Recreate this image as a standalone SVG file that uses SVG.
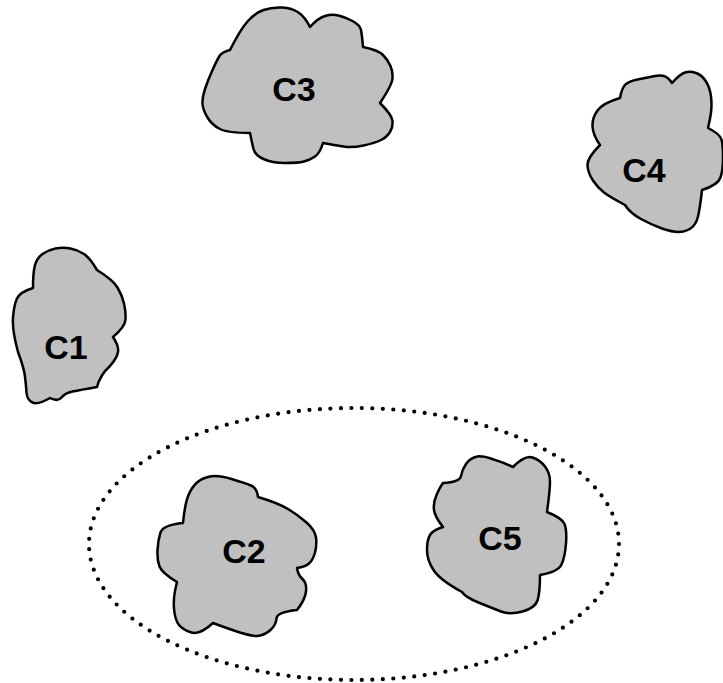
<svg xmlns="http://www.w3.org/2000/svg" width="723" height="683" viewBox="0 0 723 683">
<style>
.blob{fill:#c0c0c0;stroke:#000;stroke-width:2.5;stroke-linejoin:round}
.lbl{font-family:"Liberation Sans",Arial,sans-serif;font-weight:bold;font-size:34px;text-anchor:middle;fill:#000}
.group{fill:none;stroke:#000;stroke-width:4.2;stroke-linecap:round;stroke-dasharray:0 10}
</style>
<rect width="723" height="683" fill="#fff"/>
<g id="connectors"></g>
<g id="G1">
<ellipse class="group" cx="354" cy="544" rx="265" ry="136" pathLength="1230"/>
</g>
<g id="C3">
<path class="blob" d="M230,50 Q240,30 247.5,21.5 Q255,13 263.5,10 Q272,7 282,7.5 Q292,8 298.5,12.5 Q305,17 310,27 Q318,18 325,16 Q332,14 338.5,15.5 Q345,17 352.5,21 Q360,25 361,30 Q362,35 363,47 Q378,50 383,55 Q388,60 390.5,66 Q393,72 392.5,78.5 Q392,85 380,103 Q392,115 392.5,121 Q393,127 390,132 Q387,137 381,140 Q375,143 363.5,145.5 Q352,148 343.5,146.5 Q335,145 323,143 Q320,153 315,156.5 Q310,160 304,161.5 Q298,163 285,163 Q272,163 263.5,159 Q255,155 253.5,149 Q252,143 250,133 Q228,133 220,129 Q212,125 207.5,117.5 Q203,110 202.5,104 Q202,98 205,89 Q208,80 212.5,70 Q217,60 219.5,56 Q222,52 230,50 Z"/>
<text class="lbl" x="294" y="101">C3</text>
</g>
<g id="C4">
<path class="blob" d="M620,98 Q622,87 626,84 Q630,81 637.5,79.5 Q645,78 652.5,76.5 Q660,75 664,76 Q668,77 672,83 Q680,74 685,72.5 Q690,71 696,73 Q702,75 706,81.5 Q710,88 711,96.5 Q712,105 711,112.5 Q710,120 708,128 Q720,134 721.5,139.5 Q723,145 723,157.5 Q723,170 720.5,177.5 Q718,185 702,190 Q700,208 698,216.5 Q696,225 690.5,228.5 Q685,232 678.5,232 Q672,232 662,228.5 Q652,225 641,219 Q630,213 625,205 Q610,197 604,192.5 Q598,188 593,180.5 Q588,173 587.5,165.5 Q587,158 600,145 Q593,135 592.5,126.5 Q592,118 597.5,110.5 Q603,103 620,98 Z"/>
<text class="lbl" x="644" y="182">C4</text>
</g>
<g id="C1">
<path class="blob" d="M33,288 Q33,272 35,265 Q37,258 42.5,254 Q48,250 55.5,248.5 Q63,247 70.5,248.5 Q78,250 84,254 Q90,258 97,270 Q113,280 117.5,287.5 Q122,295 124,303.5 Q126,312 125.5,319.5 Q125,327 113,337 Q119,346 118,352 Q117,358 110,366 Q100,375 97,387 Q80,390 72.5,391.5 Q65,393 61.5,397.5 Q58,402 50,398 Q38,405 32.5,402.5 Q27,400 26.5,392.5 Q26,385 25,376.5 Q24,368 18,352 Q12,330 13,317.5 Q14,305 17,298.5 Q20,292 33,288 Z"/>
<text class="lbl" x="66" y="359">C1</text>
</g>
<g id="C2">
<path class="blob" d="M183,523 Q185,503 188.5,495 Q192,487 197,482.5 Q202,478 210,476.5 Q218,475 231.5,479 Q245,483 251,485.5 Q257,488 258,497 Q278,503 288,509 Q298,515 306.5,522.5 Q315,530 316,537.5 Q317,545 315,552.5 Q313,560 309,563.5 Q305,567 297,568 Q298,575 302.5,579 Q307,583 306,591.5 Q305,600 297,610 Q277,612 276.5,618.5 Q276,625 270.5,630 Q265,635 257.5,636 Q250,637 213,623 Q200,635 191.5,632.5 Q183,630 179,625 Q175,620 174,608.5 Q173,597 177,582 Q162,573 159.5,566.5 Q157,560 157.5,550 Q158,540 160.5,532.5 Q163,525 183,523 Z"/>
<text class="lbl" x="244" y="563">C2</text>
</g>
<g id="C5">
<path class="blob" d="M443,483 Q460,482 461,476 Q462,470 466,464 Q470,458 477.5,456.5 Q485,455 513,467 Q525,455 532.5,457.5 Q540,460 545,466.5 Q550,473 550,481.5 Q550,490 547,512 Q562,518 564.5,524 Q567,530 566,543.5 Q565,557 561.5,564.5 Q558,572 540,575 Q540,593 537.5,600.5 Q535,608 522.5,611.5 Q510,615 501,611.5 Q492,608 478.5,602.5 Q465,597 462,592 Q440,580 433.5,570 Q427,560 427,550 Q427,540 430,535 Q433,530 443,527 Q435,517 434,510 Q433,503 436.5,495 Q440,487 443,483 Z"/>
<text class="lbl" x="500" y="550">C5</text>
</g>
</svg>
